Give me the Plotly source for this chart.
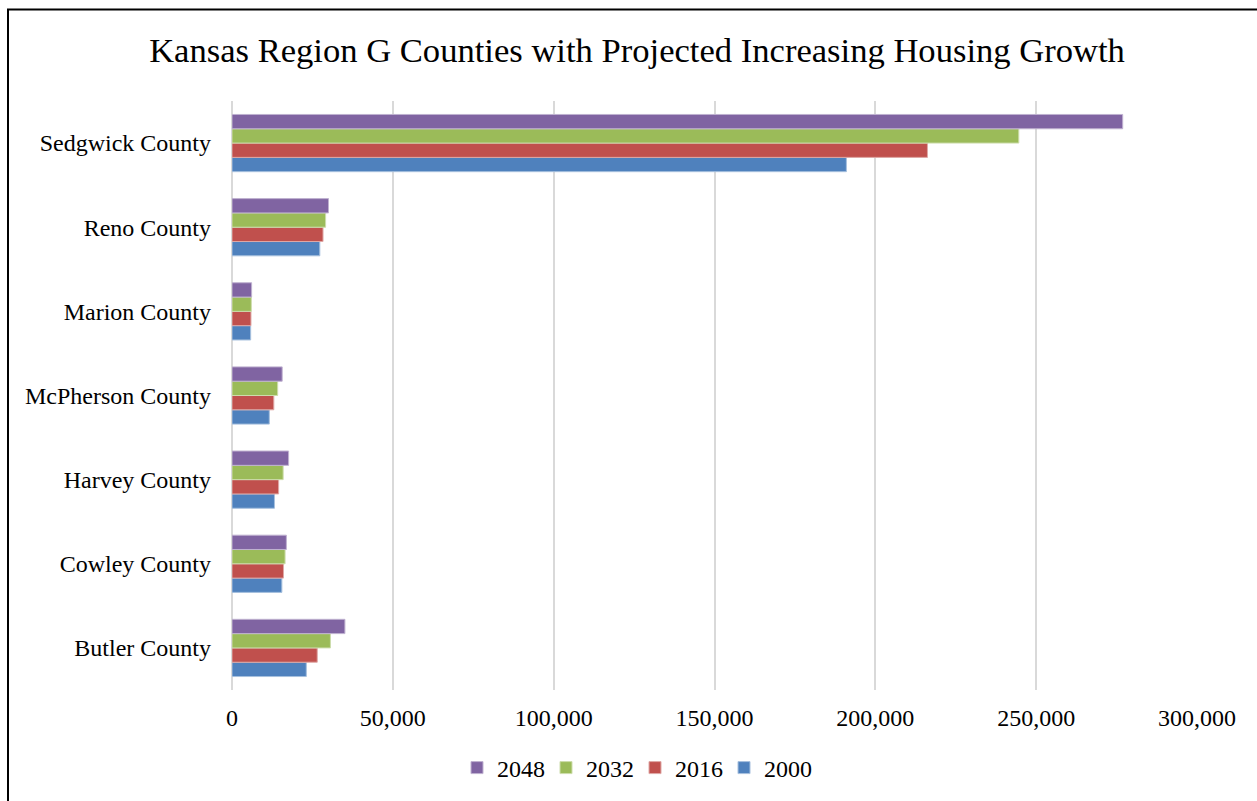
import plotly.graph_objects as go

counties = ["Butler County", "Cowley County", "Harvey County", "McPherson County",
            "Marion County", "Reno County", "Sedgwick County"]
years = ["2000", "2016", "2032", "2048"]
v2000 = [23100, 15500, 13200, 11600, 5800, 27300, 191000]
v2016 = [26500, 16000, 14500, 13000, 5900, 28300, 216200]
v2032 = [30600, 16500, 15900, 14200, 6000, 29100, 244600]
v2048 = [35100, 16900, 17600, 15600, 6100, 30000, 276900]
colors = ["#4F81BD", "#C0504D", "#9BBB59", "#8064A2"]
edge = ["#A7C0DE", "#DFA8A6", "#CDDDAC", "#BFB1D0"]
series = [v2000, v2016, v2032, v2048]

fig = go.Figure()
for name, vals, c, e in zip(years, series, colors, edge):
    fig.add_trace(go.Bar(y=counties, x=vals, name=name, orientation="h",
                         marker=dict(color=c, line=dict(color=e, width=1))))

W, H = 1257, 801
ml, mr, mt, mb = 232, 60, 101, 111
pw, ph = W - ml - mr, H - mt - mb

def px(x):
    return (x - ml) / pw

def py(y):
    return (H - mb - y) / ph

fig.update_layout(
    width=W, height=H,
    margin=dict(l=ml, r=mr, t=mt, b=mb),
    paper_bgcolor="white", plot_bgcolor="white",
    barmode="group", bargap=0.32, bargroupgap=0,
    font=dict(family="Liberation Serif, Times New Roman, serif", size=24, color="black"),
    title=dict(text="Kansas Region G Counties with Projected Increasing Housing Growth",
               x=637 / W, xref="container", xanchor="center",
               y=1 - 50 / H, yref="container", yanchor="middle",
               font=dict(size=34.6, color="black")),
    showlegend=True,
    legend=dict(orientation="h", traceorder="reversed",
                x=635 / W, xref="container", xanchor="center",
                y=1 - 768 / H, yref="container", yanchor="middle",
                font=dict(size=24), itemwidth=30, entrywidth=44,
                tracegroupgap=0),
    xaxis=dict(range=[0, 300000], dtick=50000, tickformat=",",
               showgrid=True, gridcolor="#D9D9D9", gridwidth=1.5,
               zeroline=True, zerolinecolor="#D9D9D9", zerolinewidth=1.5,
               showline=False, ticks="", ticklabelstandoff=11,
               tickfont=dict(size=24)),
    yaxis=dict(showgrid=False, zeroline=False, showline=False, ticks="",
               ticklabelstandoff=20, tickfont=dict(size=24)),
    shapes=[dict(type="rect", xref="paper", yref="paper",
                 x0=px(8), x1=px(1300), y0=py(850), y1=py(9.5),
                 line=dict(color="black", width=2), fillcolor="rgba(0,0,0,0)",
                 layer="above")],
)

fig.write_html("out.html", config={"displayModeBar": False},
               post_script="document.body.style.margin='0px';document.body.style.overflow='hidden';")
